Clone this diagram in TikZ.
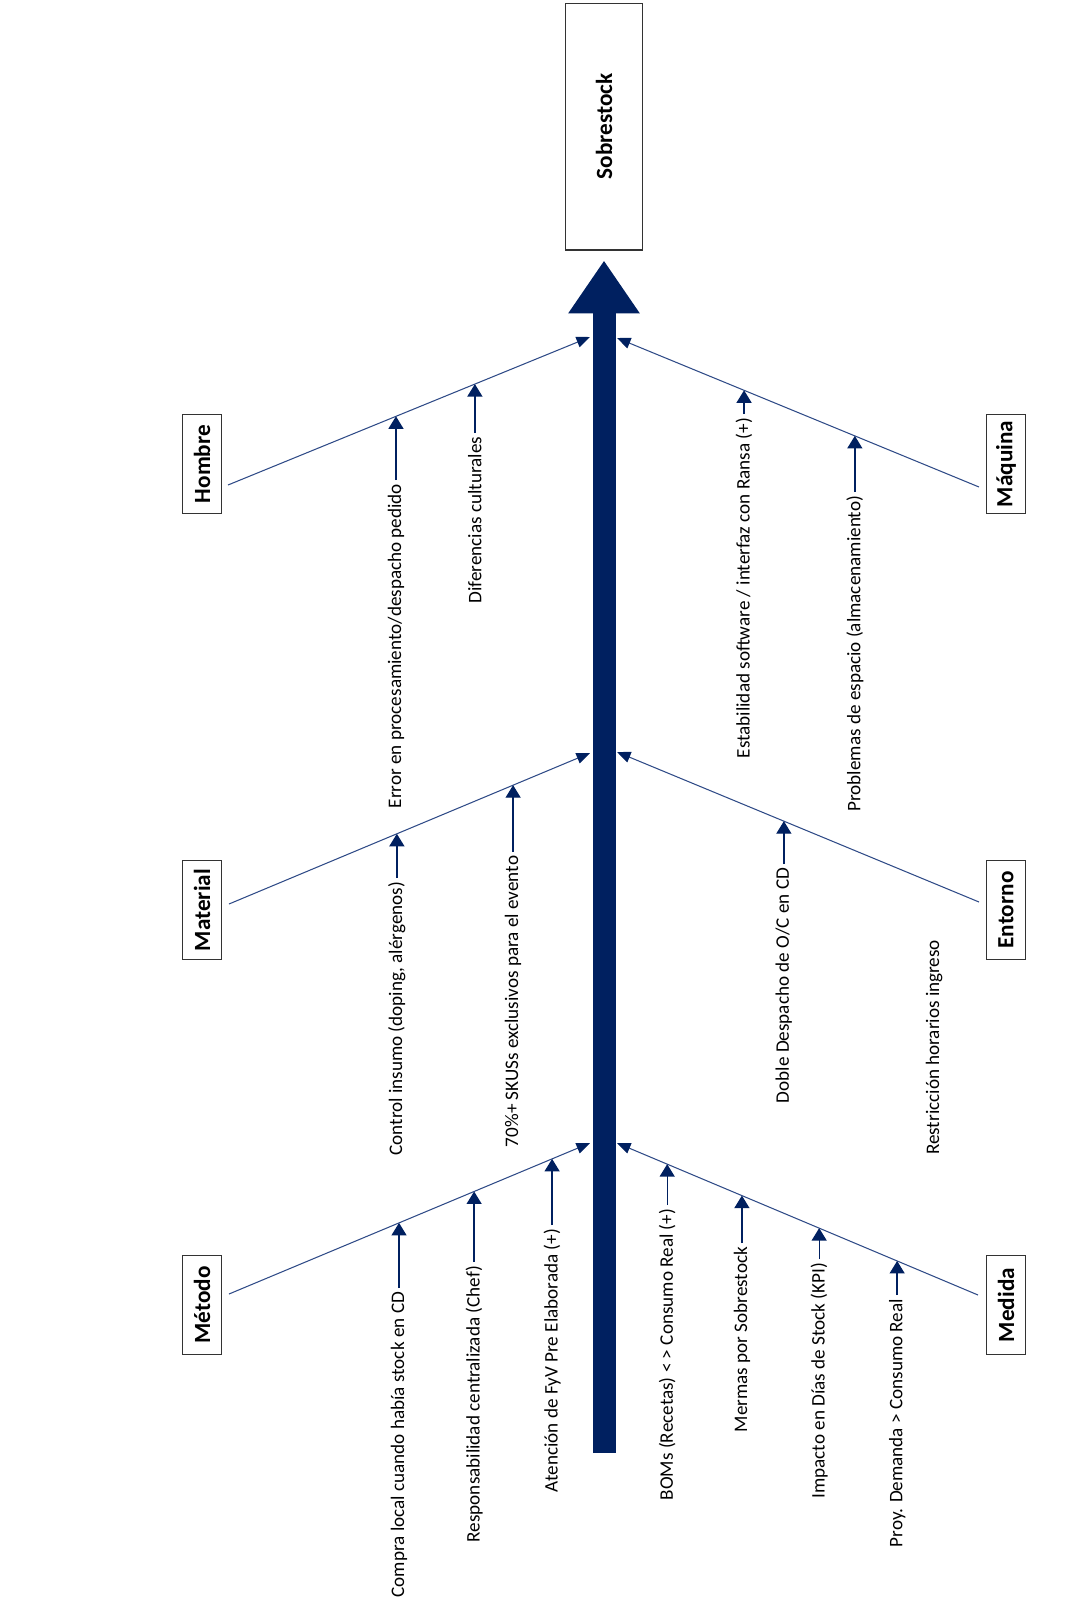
\documentclass[tikz,border=0pt]{standalone}
\usepackage{fontspec}
\setmainfont{Carlito}
\usetikzlibrary{arrows.meta,calc}
\definecolor{azul}{HTML}{002060}
\definecolor{azulrama}{HTML}{2F4B87}
\tikzset{
	cat/.style={draw=black!80, line width=0.6pt, rotate=90, minimum width=1.98cm, minimum height=0.78cm, inner sep=0pt, font=\fontsize{13.2}{15}\selectfont\bfseries},
	causa/.style={rotate=90, anchor=east, inner sep=2pt, font=\fontsize{10.9}{12}\selectfont},
	rama/.style={draw=azulrama, line width=0.6pt, -{Triangle[length=0.27cm,width=0.22cm,color=azul]}},
	flecha/.style={draw=azul, line width=0.75pt, -{Triangle[length=0.25cm,width=0.3cm]}}
}
\begin{document}
\begin{tikzpicture}[x=0.02cm, y=-0.02cm]
	\useasboundingbox (0,0) rectangle (1089,1613);

	% Efecto
		\node[draw=black!80, line width=0.6pt, rotate=90, minimum width=4.94cm, minimum height=1.54cm, font=\fontsize{13.2}{15}\selectfont\bfseries] (efecto) at (604,126.5) {Sobrestock};

	% Espina
		\coordinate (cola) at (604,1453);
		\draw[azul, line width=0.46cm, -{Triangle[length=1.06cm,width=1.36cm]}, shorten >=0.2cm] (cola) -- (efecto.west);

	% Categorias
		\node[cat] (hombre) at (202,464) {Hombre};
		\node[cat] (material) at (202,910) {Material};
		\node[cat] (metodo) at (202,1305) {Método};
		\node[cat] (maquina) at (1006,464) {Máquina};
		\node[cat] (entorno) at (1006,910) {Entorno};
		\node[cat] (medida) at (1006,1305) {Medida};

	% Ramas
		\coordinate (hs) at (228,485);  \coordinate (he) at (590,337);
		\coordinate (ms) at (229,904);  \coordinate (me) at (590,753);
		\coordinate (ts) at (229,1294); \coordinate (te) at (590,1143);
		\coordinate (qs) at (979,487);  \coordinate (qe) at (617,338);
		\coordinate (es) at (979,902);  \coordinate (ee) at (617,752);
		\coordinate (ds) at (978,1295); \coordinate (de) at (617,1143);
		\draw[rama] (hs) -- (he);
		\draw[rama] (ms) -- (me);
		\draw[rama] (ts) -- (te);
		\draw[rama] (qs) -- (qe);
		\draw[rama] (es) -- (ee);
		\draw[rama] (ds) -- (de);

	% Hombre
		\coordinate (h1) at ($(hs)!0.464!(he)$);
		\coordinate (h2) at ($(hs)!0.682!(he)$);
		\node[causa] (ch1) at (h1 |- 0,480) {Error en procesamiento/despacho pedido};
		\node[causa] (ch2) at (h2 |- 0,433) {Diferencias culturales};
		\draw[flecha] (ch1.east) -- (h1);
		\draw[flecha] (ch2.east) -- (h2);

	% Material
		\coordinate (m1) at ($(ms)!0.465!(me)$);
		\coordinate (m2) at ($(ms)!0.787!(me)$);
		\node[causa] (cm1) at (m1 |- 0,878) {Control insumo (doping, alérgenos)};
		\node[causa] (cm2) at (m2 |- 0,852) {70\%+ SKUSs exclusivos para el evento};
		\draw[flecha] (cm1.east) -- (m1);
		\draw[flecha] (cm2.east) -- (m2);

	% Metodo
		\coordinate (t1) at ($(ts)!0.471!(te)$);
		\coordinate (t2) at ($(ts)!0.679!(te)$);
		\coordinate (t3) at ($(ts)!0.895!(te)$);
		\node[causa] (ct1) at (t1 |- 0,1288) {Compra local cuando había stock en CD};
		\node[causa] (ct2) at (t2 |- 0,1262) {Responsabilidad centralizada (Chef)};
		\node[causa] (ct3) at (t3 |- 0,1225) {Atención de FyV Pre Elaborada (+)};
		\draw[flecha] (ct1.east) -- (t1);
		\draw[flecha] (ct2.east) -- (t2);
		\draw[flecha] (ct3.east) -- (t3);

	% Maquina
		\coordinate (q1) at ($(qs)!0.649!(qe)$);
		\coordinate (q2) at ($(qs)!0.343!(qe)$);
		\node[causa] (cq1) at (q1 |- 0,414) {Estabilidad software / interfaz con Ransa (+)};
		\node[causa] (cq2) at (q2 |- 0,492) {Problemas de espacio (almacenamiento)};
		\draw[flecha] (cq1.east) -- (q1);
		\draw[flecha] (cq2.east) -- (q2);

	% Entorno
		\coordinate (e1) at ($(es)!0.539!(ee)$);
		\node[causa] (ce1) at (e1 |- 0,864) {Doble Despacho de O/C en CD};
		\node[causa] (ce2) at (934,936) {Restricción horarios ingreso};
		\draw[flecha] (ce1.east) -- (e1);

	% Medida
		\coordinate (d1) at ($(ds)!0.861!(de)$);
		\coordinate (d2) at ($(ds)!0.654!(de)$);
		\coordinate (d3) at ($(ds)!0.440!(de)$);
		\coordinate (d4) at ($(ds)!0.224!(de)$);
		\node[causa] (cd1) at (d1 |- 0,1205) {BOMs (Recetas) < > Consumo Real (+)};
		\node[causa] (cd2) at (d2 |- 0,1243) {Mermas por Sobrestock};
		\node[causa] (cd3) at (d3 |- 0,1259) {Impacto en Días de Stock (KPI)};
		\node[causa] (cd4) at (d4 |- 0,1295) {Proy. Demanda > Consumo Real};
		\draw[flecha] (cd1.east) -- (d1);
		\draw[flecha] (cd2.east) -- (d2);
		\draw[flecha] (cd3.east) -- (d3);
		\draw[flecha] (cd4.east) -- (d4);
\end{tikzpicture}
\end{document}
